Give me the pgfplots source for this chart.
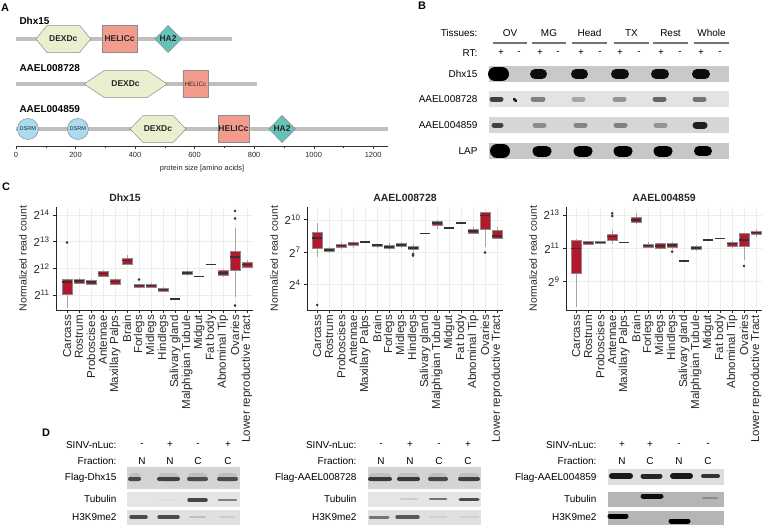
\documentclass[border=0pt]{standalone}
\usepackage{fontspec}
\setmainfont{Liberation Sans}
\usepackage{pgfplots}
\pgfplotsset{compat=1.18}
\usepgfplotslibrary{statistics}

\definecolor{dexd}{HTML}{E9EFCF}
\definecolor{helic}{HTML}{F39C8D}
\definecolor{hatwo}{HTML}{66C2B9}
\definecolor{dsrm}{HTML}{A9DBF1}
\definecolor{boxred}{HTML}{B3182D}
\definecolor{medgray}{HTML}{3C2F2F}
\definecolor{txt}{HTML}{262626}

\newcommand{\fs}[1]{\fontsize{#1}{#1}\selectfont}
\newcommand{\bx}[6]{\addplot[boxplot prepared={draw position=#1,lower whisker=#2,lower quartile=#3,median=#4,upper quartile=#5,upper whisker=#6}] coordinates {};}
\newcommand{\bxo}[7]{\addplot[mark=*, mark size=1.1bp, mark options={fill=black!80,draw=black!80}, boxplot prepared={draw position=#1,lower whisker=#2,lower quartile=#3,median=#4,upper quartile=#5,upper whisker=#6}] table[row sep=\\,y index=0] {data\\ #7};}

\pgfplotsset{boxax/.style={
 anchor=south west, scale only axis, width=196bp, height=103bp,
 axis x line*=bottom, axis y line*=left, tick align=outside,
 major tick length=3bp, xmin=-0.85, xmax=15.5,
 xtick={0,...,15},
 xticklabels={Carcass,Rostrum,Proboscises,Antennae,Maxillary Palps,Brain,Forlegs,Midlegs,Hindlegs,Salivary gland,Malphigian Tubule,Midgut,Fat body,Abnominal Tip,Ovaries,Lower reproductive Tract},
 xticklabel style={rotate=90, anchor=east, font=\fs{11.6}, text=txt, inner sep=2bp},
 yticklabel style={font=\fs{11.5}, text=txt},
 ylabel={Normalized read count}, ylabel style={font=\fs{10.5}, text=txt},
 title style={font=\bfseries\fs{10.5}, text=txt, yshift=-4bp},
 grid=major, major grid style={draw=black!7, line width=0.5bp},
 axis line style={draw=black!85, line width=0.8bp},
 tick style={draw=black!85, line width=0.6bp},
 /pgf/number format/assume math mode=true,
 boxplot/draw direction=y, boxplot/box extend=0.8, boxplot/whisker extend=0,
 boxplot/every box/.style={draw=black!45, fill=boxred, line width=0.4bp},
 boxplot/every median/.style={draw=medgray, line width=1.5bp},
 boxplot/every whisker/.style={draw=black!35, line width=0.6bp},
 clip=false}}

\begin{document}
\begin{tikzpicture}
\path[use as bounding box] (0,0) rectangle (763bp,-525bp);

% ---------------- canvas (panels B, D, letters) ----------------
\begin{axis}[at={(0bp,0bp)}, anchor=north west, scale only axis, width=763bp, height=525bp,
  xmin=0, xmax=763, ymin=0, ymax=525, y dir=reverse, hide axis, clip=false,
  every node/.append style={font=\fs{9.7}, text=txt, inner sep=0pt}]
% panel letters
\node[font=\bfseries\fs{11}] at (axis cs:5,8) {A};
\node[font=\bfseries\fs{11}] at (axis cs:422,6) {B};
\node[font=\bfseries\fs{11}] at (axis cs:6,187) {C};
\node[font=\bfseries\fs{11}] at (axis cs:46,433) {D};
% panel A row names
\node[anchor=west, font=\bfseries\fs{10}] at (axis cs:16,20.5) {Dhx15};
\node[anchor=west, font=\bfseries\fs{10}] at (axis cs:16,68) {AAEL008728};
\node[anchor=west, font=\bfseries\fs{10}] at (axis cs:16,109) {AAEL004859};

% ---- panel B ----
\node[anchor=east] at (axis cs:481,33) {Tissues:};
\node at (axis cs:510,33) {OV};
\node at (axis cs:549,33) {MG};
\node at (axis cs:589.5,33) {Head};
\node at (axis cs:631.5,33) {TX};
\node at (axis cs:670.5,33) {Rest};
\node at (axis cs:711.5,33) {Whole};
\addplot[draw=black!55, line width=1.2bp] coordinates {(493,43)(527,43)};
\addplot[draw=black!55, line width=1.2bp] coordinates {(532,43)(566,43)};
\addplot[draw=black!55, line width=1.2bp] coordinates {(572,43)(607,43)};
\addplot[draw=black!55, line width=1.2bp] coordinates {(614,43)(649,43)};
\addplot[draw=black!55, line width=1.2bp] coordinates {(653,43)(688,43)};
\addplot[draw=black!55, line width=1.2bp] coordinates {(694,43)(729,43)};
\node[anchor=east] at (axis cs:481,53) {RT:};
\node at (axis cs:501,53) {+}; \node at (axis cs:519,53) {-};
\node at (axis cs:540,53) {+}; \node at (axis cs:558,53) {-};
\node at (axis cs:581,53) {+}; \node at (axis cs:600,53) {-};
\node at (axis cs:620,53) {+}; \node at (axis cs:639,53) {-};
\node at (axis cs:661,53) {+}; \node at (axis cs:680,53) {-};
\node at (axis cs:701,53) {+}; \node at (axis cs:720,53) {-};
\node[anchor=east] at (axis cs:481,74) {Dhx15};
\node[anchor=east] at (axis cs:481,99) {AAEL008728};
\node[anchor=east] at (axis cs:481,125) {AAEL004859};
\node[anchor=east] at (axis cs:481,151) {LAP};
% strips
\addplot[fill=black!21, draw=none] coordinates {(489,66)(729,66)(729,82)(489,82)};
\addplot[fill=black!11, draw=none] coordinates {(489,91)(729,91)(729,107)(489,107)};
\addplot[fill=black!16, draw=none] coordinates {(489,117)(729,117)(729,133)(489,133)};
\addplot[fill=black!22, draw=none] coordinates {(489,143)(729,143)(729,159)(489,159)};
% Dhx15 bands
\addplot[draw=black, line width=14bp, line cap=round] coordinates {(495,74)(502,74)};
\addplot[draw=black!95, line width=10bp, line cap=round] coordinates {(535,74)(542,74)};
\addplot[draw=black!95, line width=10bp, line cap=round] coordinates {(576,74)(583,74)};
\addplot[draw=black!95, line width=10bp, line cap=round] coordinates {(616,74)(624,74)};
\addplot[draw=black!95, line width=10bp, line cap=round] coordinates {(656,74)(664,74)};
\addplot[draw=black!95, line width=10bp, line cap=round] coordinates {(697,74)(705,74)};
% AAEL008728 bands
\addplot[draw=black!75, line width=5bp, line cap=round] coordinates {(492,99)(501,99)};
\addplot[draw=black!90, line width=2.5bp, line cap=round] coordinates {(514,99)(516,101)};
\addplot[draw=black!50, line width=5bp, line cap=round] coordinates {(533,99)(543,99)};
\addplot[draw=black!35, line width=5bp, line cap=round] coordinates {(574,99)(583,99)};
\addplot[draw=black!42, line width=5bp, line cap=round] coordinates {(615,99)(624,99)};
\addplot[draw=black!60, line width=5bp, line cap=round] coordinates {(655,99)(664,99)};
\addplot[draw=black!55, line width=5bp, line cap=round] coordinates {(695,99)(704,99)};
% AAEL004859 bands
\addplot[draw=black!75, line width=5bp, line cap=round] coordinates {(494,125)(501,125)};
\addplot[draw=black!45, line width=5bp, line cap=round] coordinates {(535,125)(544,125)};
\addplot[draw=black!48, line width=5bp, line cap=round] coordinates {(576,125)(585,125)};
\addplot[draw=black!50, line width=5bp, line cap=round] coordinates {(616,125)(625,125)};
\addplot[draw=black!42, line width=5bp, line cap=round] coordinates {(656,125)(665,125)};
\addplot[draw=black!88, line width=7bp, line cap=round] coordinates {(696,125)(704,125)};
% LAP bands
\addplot[draw=black, line width=14bp, line cap=round] coordinates {(497,151)(503,151)};
\addplot[draw=black, line width=11bp, line cap=round] coordinates {(538,151)(546,151)};
\addplot[draw=black, line width=11bp, line cap=round] coordinates {(579,151)(587,151)};
\addplot[draw=black, line width=11bp, line cap=round] coordinates {(619,151)(627,151)};
\addplot[draw=black, line width=11bp, line cap=round] coordinates {(659,151)(667,151)};
\addplot[draw=black, line width=10bp, line cap=round] coordinates {(699,151)(707,151)};

% ---- panel D, left group ----
\node[anchor=east] at (axis cs:120,445) {SINV-nLuc:};
\node[anchor=east] at (axis cs:120,461) {Fraction:};
\node[anchor=east] at (axis cs:120,478) {Flag-Dhx15};
\node[anchor=east] at (axis cs:120,499) {Tubulin};
\node[anchor=east] at (axis cs:120,517) {H3K9me2};
\node at (axis cs:142,445) {-}; \node at (axis cs:170,445) {+}; \node at (axis cs:198,445) {-}; \node at (axis cs:228,445) {+};
\node at (axis cs:142,461) {N}; \node at (axis cs:170,461) {N}; \node at (axis cs:198,461) {C}; \node at (axis cs:228,461) {C};
\addplot[fill=black!17, draw=none] coordinates {(127,467)(240,467)(240,489)(127,489)};
\addplot[fill=black!10, draw=none] coordinates {(127,492)(240,492)(240,507)(127,507)};
\addplot[fill=black!12, draw=none] coordinates {(127,510)(240,510)(240,525)(127,525)};
\addplot[draw=black!25, line width=9bp, line cap=round] coordinates {(133,477)(137,477)};
\addplot[draw=black!25, line width=9bp, line cap=round] coordinates {(163,477)(175,477)};
\addplot[draw=black!25, line width=9bp, line cap=round] coordinates {(192,477)(203,477)};
\addplot[draw=black!25, line width=9bp, line cap=round] coordinates {(222,477)(233,477)};
\addplot[draw=black!72, line width=4bp, line cap=round] coordinates {(130,479)(139,479)};
\addplot[draw=black!75, line width=4bp, line cap=round] coordinates {(159,479)(178,479)};
\addplot[draw=black!70, line width=4bp, line cap=round] coordinates {(189,479)(206,479)};
\addplot[draw=black!70, line width=4bp, line cap=round] coordinates {(219,479)(236,479)};
\addplot[draw=black!12, line width=2bp, line cap=round] coordinates {(160,500)(178,500)};
\addplot[draw=black!72, line width=3.5bp, line cap=round] coordinates {(189,500)(206,500)};
\addplot[draw=black!50, line width=2.5bp, line cap=round] coordinates {(219,500)(236,500)};
\addplot[draw=black!70, line width=3.5bp, line cap=round] coordinates {(131,517)(146,517)};
\addplot[draw=black!70, line width=3.5bp, line cap=round] coordinates {(159,517)(178,517)};
\addplot[draw=black!25, line width=2bp, line cap=round] coordinates {(190,517)(205,517)};
\addplot[draw=black!20, line width=2bp, line cap=round] coordinates {(220,517)(234,517)};

% ---- panel D, middle group ----
\node[anchor=east] at (axis cs:360,445) {SINV-nLuc:};
\node[anchor=east] at (axis cs:360,461) {Fraction:};
\node[anchor=east] at (axis cs:360,478) {Flag-AAEL008728};
\node[anchor=east] at (axis cs:360,499) {Tubulin};
\node[anchor=east] at (axis cs:360,517) {H3K9me2};
\node at (axis cs:381,445) {-}; \node at (axis cs:410,445) {+}; \node at (axis cs:439,445) {-}; \node at (axis cs:468,445) {+};
\node at (axis cs:381,461) {N}; \node at (axis cs:410,461) {N}; \node at (axis cs:439,461) {C}; \node at (axis cs:468,461) {C};
\addplot[fill=black!17, draw=none] coordinates {(368,467)(481,467)(481,489)(368,489)};
\addplot[fill=black!10, draw=none] coordinates {(368,492)(481,492)(481,507)(368,507)};
\addplot[fill=black!12, draw=none] coordinates {(368,510)(481,510)(481,525)(368,525)};
\addplot[draw=black!25, line width=9bp, line cap=round] coordinates {(373,477)(387,477)};
\addplot[draw=black!25, line width=9bp, line cap=round] coordinates {(402,477)(415,477)};
\addplot[draw=black!25, line width=9bp, line cap=round] coordinates {(433,477)(443,477)};
\addplot[draw=black!25, line width=9bp, line cap=round] coordinates {(463,477)(475,477)};
\addplot[draw=black!78, line width=4bp, line cap=round] coordinates {(370,479)(390,479)};
\addplot[draw=black!78, line width=4bp, line cap=round] coordinates {(399,479)(418,479)};
\addplot[draw=black!72, line width=4bp, line cap=round] coordinates {(430,479)(446,479)};
\addplot[draw=black!75, line width=4bp, line cap=round] coordinates {(460,479)(478,479)};
\addplot[draw=black!20, line width=1.5bp, line cap=round] coordinates {(401,499)(417,499)};
\addplot[draw=black!55, line width=2.5bp, line cap=round] coordinates {(430,499)(446,499)};
\addplot[draw=black!70, line width=3bp, line cap=round] coordinates {(460,499)(478,499)};
\addplot[draw=black!55, line width=3bp, line cap=round] coordinates {(370,517)(388,517)};
\addplot[draw=black!65, line width=3.5bp, line cap=round] coordinates {(397,517)(418,517)};
\addplot[draw=black!18, line width=2bp, line cap=round] coordinates {(430,517)(446,517)};
\addplot[draw=black!18, line width=2bp, line cap=round] coordinates {(460,517)(478,517)};

% ---- panel D, right group ----
\node[anchor=east] at (axis cs:600,445) {SINV-nLuc:};
\node[anchor=east] at (axis cs:600,461) {Fraction:};
\node[anchor=east] at (axis cs:600,478) {Flag-AAEL004859};
\node[anchor=east] at (axis cs:600,499) {Tubulin};
\node[anchor=east] at (axis cs:600,517) {H3K9me2};
\node at (axis cs:622,445) {+}; \node at (axis cs:650,445) {+}; \node at (axis cs:679,445) {-}; \node at (axis cs:708,445) {-};
\node at (axis cs:622,461) {N}; \node at (axis cs:650,461) {C}; \node at (axis cs:679,461) {N}; \node at (axis cs:708,461) {C};
\addplot[fill=black!13, draw=none] coordinates {(608,469)(724,469)(724,485)(608,485)};
\addplot[fill=black!29, draw=none] coordinates {(608,492)(724,492)(724,507)(608,507)};
\addplot[fill=black!29, draw=none] coordinates {(608,511)(724,511)(724,525)(608,525)};
\addplot[draw=black!90, line width=6bp, line cap=round] coordinates {(612,476)(630,476)};
\addplot[draw=black!85, line width=5bp, line cap=round] coordinates {(643,476)(660,476)};
\addplot[draw=black!90, line width=6bp, line cap=round] coordinates {(673,476)(690,476)};
\addplot[draw=black!80, line width=4bp, line cap=round] coordinates {(703,476)(718,476)};
\addplot[draw=black!95, line width=5bp, line cap=round] coordinates {(643,496)(661,496)};
\addplot[draw=black!45, line width=2.5bp, line cap=round] coordinates {(703,498)(717,498)};
\addplot[draw=black, line width=5bp, line cap=round] coordinates {(610,516)(626,516)};
\addplot[draw=black, line width=5bp, line cap=round] coordinates {(671,521)(688,521)};
\end{axis}

% ---------------- panel A ----------------
\begin{axis}[at={(16bp,-146bp)}, anchor=south west, scale only axis, width=372bp, height=134bp,
 xmin=0, xmax=1250, ymin=0, ymax=134, axis x line*=bottom, axis y line=none, clip=false,
 xtick={0,200,...,1200}, minor xtick={100,300,...,1100}, tick align=outside,
 major tick length=3bp, minor tick length=2bp,
 axis line style={draw=black!80, line width=0.7bp}, tick style={draw=black!80},
 xticklabel style={font=\fs{7.5}, text=txt},
 xlabel={protein size [amino acids]}, xlabel style={font=\fs{7.5}, text=txt},
 /pgf/number format/assume math mode=true, /pgf/number format/1000 sep={}]
% backbones
\addplot[draw=black!25, line width=4bp] coordinates {(0,107)(726,107)};
\addplot[draw=black!25, line width=4bp] coordinates {(0,62)(810,62)};
\addplot[draw=black!25, line width=4bp] coordinates {(0,17)(1250,17)};
% Dhx15
\addplot[fill=dexd, draw=black!45, line width=0.5bp] coordinates {(67,107)(104,120.5)(214,120.5)(251,107)(214,93.5)(104,93.5)(67,107)};
\addplot[fill=helic, draw=black!45, line width=0.5bp] coordinates {(289,93.5)(289,120.5)(407,120.5)(407,93.5)(289,93.5)};
\addplot[fill=hatwo, draw=black!45, line width=0.5bp] coordinates {(466,107)(511,120.5)(556,107)(511,93.5)(466,107)};
\node[font=\bfseries\fs{8.5}, text=txt] at (axis cs:159,107) {DEXDc};
\node[font=\bfseries\fs{8.5}, text=txt] at (axis cs:348,107) {HELICc};
\node[font=\bfseries\fs{8.5}, text=txt] at (axis cs:511,107) {HA2};
% AAEL008728
\addplot[fill=dexd, draw=black!45, line width=0.5bp] coordinates {(229,62)(296,75.5)(441,75.5)(508,62)(441,48.5)(296,48.5)(229,62)};
\addplot[fill=helic, draw=black!45, line width=0.5bp] coordinates {(561,48.5)(561,75.5)(645,75.5)(645,48.5)(561,48.5)};
\node[font=\bfseries\fs{8.5}, text=txt] at (axis cs:368,62) {DEXDc};
\node[font=\fs{6.3}, text=txt] at (axis cs:603,62) {HELICc};
% AAEL004859
\addplot[only marks, mark=*, mark size=10.5bp, mark options={fill=dsrm, draw=black!45, line width=0.5bp},
  nodes near coords={DSRM}, every node near coord/.append style={anchor=center, font=\fs{5.6}, text=txt, inner sep=0pt}] coordinates {(40,17)(208,17)};
\addplot[fill=dexd, draw=black!45, line width=0.5bp] coordinates {(383,17)(427,30.5)(528,30.5)(571,17)(528,3.5)(427,3.5)(383,17)};
\addplot[fill=helic, draw=black!45, line width=0.5bp] coordinates {(679,3.5)(679,30.5)(783,30.5)(783,3.5)(679,3.5)};
\addplot[fill=hatwo, draw=black!45, line width=0.5bp] coordinates {(849,17)(894,30.5)(939,17)(894,3.5)(849,17)};
\node[font=\bfseries\fs{8.5}, text=txt] at (axis cs:477,17) {DEXDc};
\node[font=\bfseries\fs{8.5}, text=txt] at (axis cs:731,17) {HELICc};
\node[font=\bfseries\fs{8.5}, text=txt] at (axis cs:894,17) {HA2};
\end{axis}

% ---------------- panel C : Dhx15 ----------------
\begin{axis}[boxax, at={(56bp,-310bp)}, width=197bp, xmin=-0.92, xmax=15.5,
  ymin=10.44, ymax=14.3, ytick={11,12,13,14},
  yticklabels={2\textsuperscript{11},2\textsuperscript{12},2\textsuperscript{13},2\textsuperscript{14}},
  title={Dhx15}, title style={at={(0.35,1)}}]
\bxo{0}{10.52}{11.03}{11.49}{11.58}{11.62}{12.97\\}
\bx{1}{11.43}{11.45}{11.53}{11.60}{11.64}
\bx{2}{11.39}{11.41}{11.49}{11.55}{11.59}
\bx{3}{11.68}{11.72}{11.80}{11.89}{11.95}
\bx{4}{11.38}{11.41}{11.51}{11.59}{11.65}
\bx{5}{12.15}{12.17}{12.30}{12.37}{12.50}
\bxo{6}{11.28}{11.30}{11.35}{11.40}{11.43}{11.58\\}
\bx{7}{11.27}{11.30}{11.35}{11.41}{11.44}
\bx{8}{11.14}{11.16}{11.21}{11.26}{11.29}
\bx{9}{10.85}{10.85}{10.85}{10.85}{10.85}
\bx{10}{11.70}{11.77}{11.83}{11.89}{11.93}
\bx{11}{11.70}{11.70}{11.70}{11.70}{11.70}
\bx{12}{12.15}{12.15}{12.15}{12.15}{12.15}
\bx{13}{11.68}{11.73}{11.83}{11.93}{11.99}
\bxo{14}{10.92}{11.92}{12.43}{12.64}{13.53}{14.15\\ 13.87\\ 10.61\\}
\bx{15}{12.02}{12.05}{12.15}{12.24}{12.33}
\end{axis}

% ---------------- panel C : AAEL008728 ----------------
\begin{axis}[boxax, at={(307bp,-310bp)},
  ymin=1.65, ymax=11.18, ytick={4,7,10},
  yticklabels={2\textsuperscript{4},2\textsuperscript{7},2\textsuperscript{10}},
  title={AAEL008728}]
\bxo{0}{6.59}{7.37}{8.30}{8.85}{9.69}{2.11\\}
\bx{1}{7.00}{7.06}{7.21}{7.37}{7.46}
\bx{2}{7.37}{7.43}{7.62}{7.77}{7.90}
\bx{3}{7.43}{7.65}{7.80}{7.93}{8.05}
\bx{4}{7.93}{7.93}{7.93}{7.93}{7.93}
\bx{5}{7.46}{7.52}{7.65}{7.74}{7.77}
\bx{6}{7.21}{7.34}{7.46}{7.62}{7.86}
\bx{7}{7.46}{7.52}{7.65}{7.80}{7.90}
\bxo{8}{7.06}{7.28}{7.40}{7.55}{7.77}{6.84\\ 6.69\\}
\bx{9}{8.73}{8.73}{8.73}{8.73}{8.73}
\bx{10}{9.19}{9.47}{9.69}{9.88}{10.00}
\bx{11}{9.26}{9.26}{9.26}{9.26}{9.26}
\bx{12}{9.72}{9.72}{9.72}{9.72}{9.72}
\bx{13}{8.64}{8.76}{8.98}{9.16}{9.32}
\bxo{14}{7.52}{9.16}{10.40}{10.68}{10.74}{6.97\\}
\bx{15}{8.27}{8.30}{8.51}{9.07}{9.29}
\end{axis}

% ---------------- panel C : AAEL004859 ----------------
\begin{axis}[boxax, at={(566bp,-310bp)},
  ymin=7.30, ymax=13.48, ytick={9,11,13},
  yticklabels={2\textsuperscript{9},2\textsuperscript{11},2\textsuperscript{13}},
  title={AAEL004859}]
\bx{0}{7.50}{9.50}{11.00}{11.46}{11.56}
\bx{1}{11.22}{11.26}{11.36}{11.42}{11.46}
\bx{2}{11.26}{11.30}{11.36}{11.42}{11.46}
\bxo{3}{11.24}{11.50}{11.70}{11.86}{12.10}{13.10\\ 12.94\\}
\bx{4}{11.36}{11.36}{11.36}{11.36}{11.36}
\bx{5}{12.50}{12.54}{12.70}{12.84}{13.14}
\bx{6}{11.02}{11.06}{11.16}{11.26}{11.38}
\bx{7}{10.98}{11.00}{11.14}{11.28}{11.34}
\bxo{8}{10.96}{11.08}{11.20}{11.30}{11.38}{10.80\\}
\bx{9}{10.24}{10.24}{10.24}{10.24}{10.24}
\bx{10}{10.88}{10.92}{11.02}{11.12}{11.20}
\bx{11}{11.50}{11.50}{11.50}{11.50}{11.50}
\bx{12}{11.60}{11.60}{11.60}{11.60}{11.60}
\bx{13}{11.04}{11.10}{11.28}{11.38}{11.46}
\bxo{14}{10.28}{11.10}{11.50}{11.88}{11.92}{9.94\\}
\bx{15}{11.70}{11.86}{11.96}{12.04}{12.16}
\end{axis}
\end{tikzpicture}
\end{document}
